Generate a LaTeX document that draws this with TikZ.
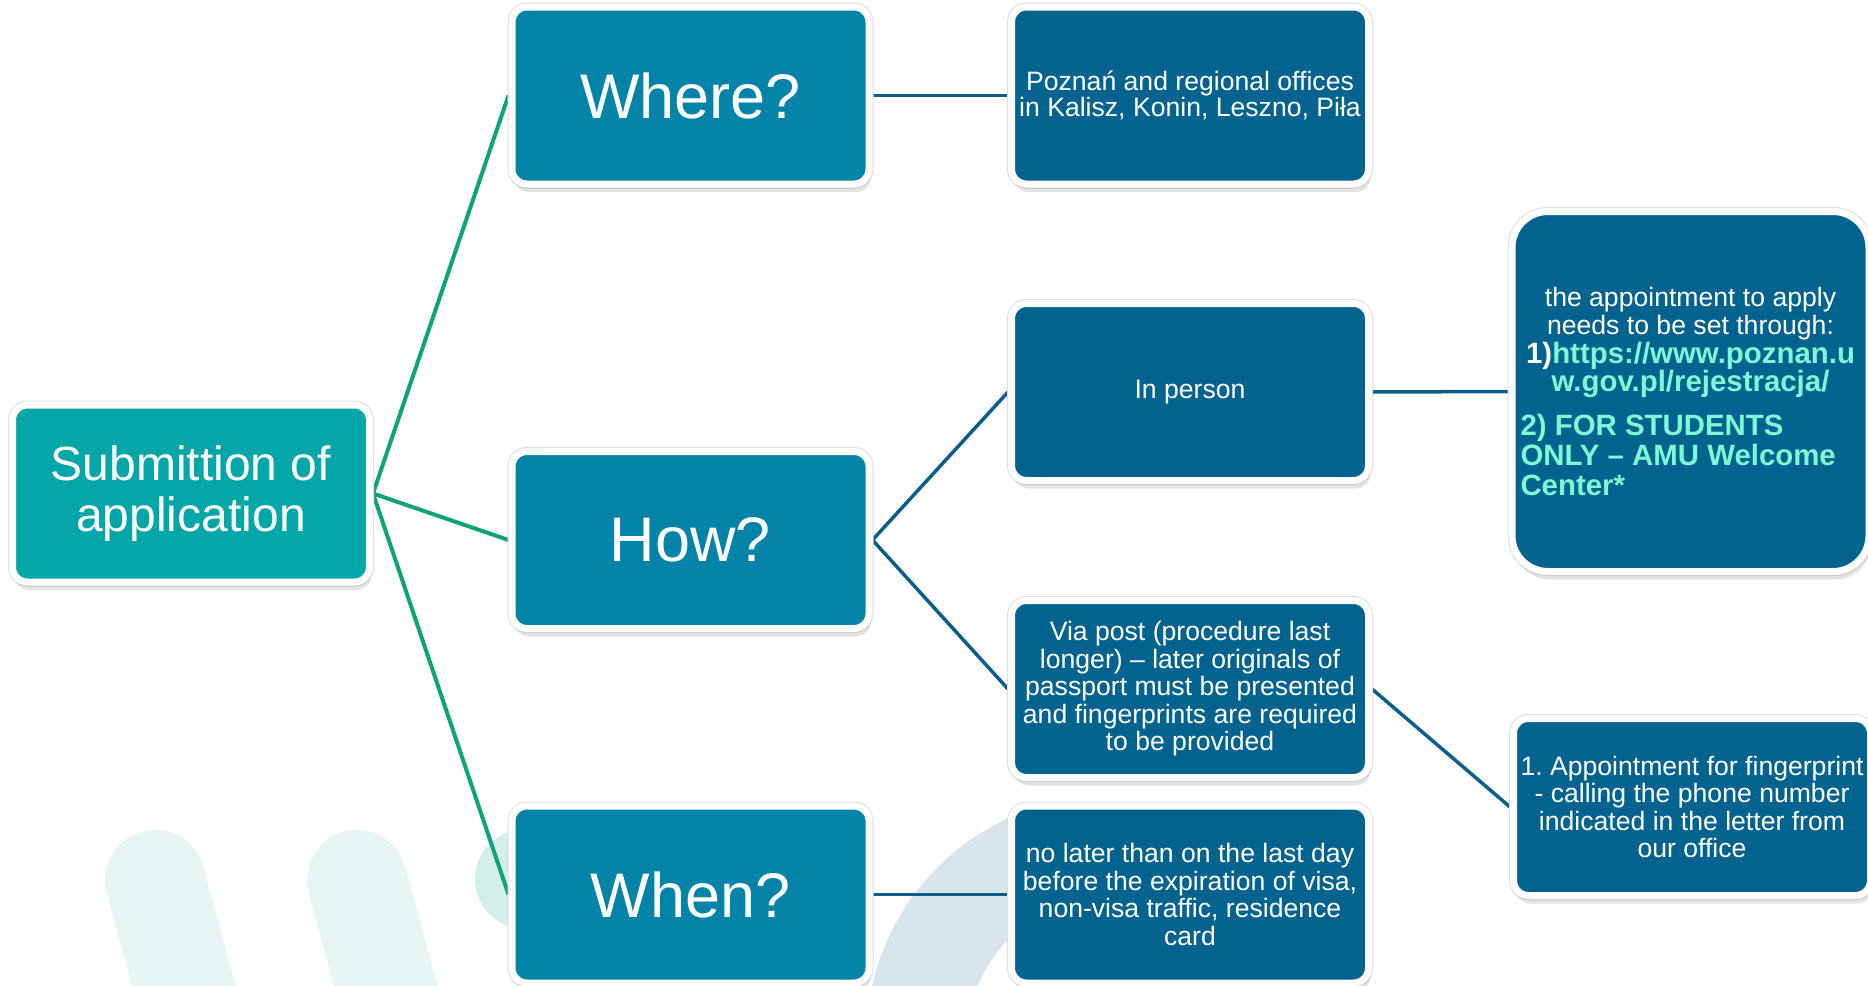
\documentclass[tikz,border=0pt]{standalone}
\usepackage{fontspec}
\setmainfont{Liberation Sans}
\usetikzlibrary{shadows}
\definecolor{subc}{HTML}{04A6A8}
\definecolor{midc}{HTML}{0383A7}
\definecolor{rc}{HTML}{03638F}
\definecolor{greenl}{HTML}{0FA379}
\definecolor{bluel}{HTML}{0B5E89}
\definecolor{aqua}{HTML}{7DF7D4}
\definecolor{wmone}{HTML}{E7F5F5}
\definecolor{wmtwo}{HTML}{D4EEEB}
\definecolor{wmthree}{HTML}{D8E5ED}
\pgfdeclarelayer{wm}
\pgfdeclarelayer{edges}
\pgfsetlayers{wm,edges,main}
\begin{document}
\begin{tikzpicture}[x=1pt,y=-1pt,
  boxbase/.style={draw=white, line width=7pt, rounded corners=15pt, inner sep=0pt,
    minimum width=357pt, minimum height=177pt, text=white, align=center,
    preaction={draw=black!13, line width=9pt},
    drop shadow={opacity=0.22, shadow xshift=2pt, shadow yshift=-8pt}},
  rootbox/.style={boxbase, fill=subc, font=\fontsize{48}{51}\selectfont},
  qbox/.style={boxbase, fill=midc, font=\fontsize{63}{70}\selectfont},
  infobox/.style={boxbase, fill=rc, font=\fontsize{26.6}{27.5}\selectfont},
  gline/.style={draw=greenl, line width=4pt},
  bline/.style={draw=bluel, line width=3.5pt}]
\useasboundingbox (0,0) rectangle (1868,985);

% nodes
\node[rootbox] (sub) at (191,493.5) {Submittion of\\application};
\node[qbox] (where) at (690.5,95.5) {Where?};
\node[qbox] (how) at (690.5,540) {How?};
\node[qbox] (when) at (690.5,894.5) {When?};
\node[infobox, font=\fontsize{26.6}{25.5}\selectfont] (poz) at (1190,95.5)
  {Poznań and regional offices\\in Kalisz, Konin, Leszno, Piła};
\node[infobox] (inperson) at (1190,392) {In person};
\node[infobox] (viapost) at (1190,689)
  {Via post (procedure last\\longer) – later originals of\\passport must be presented\\and fingerprints are required\\to be provided};
\node[infobox] (nolater) at (1190,894.5)
  {no later than on the last day\\before the expiration of visa,\\non-visa traffic, residence\\card};
\node[infobox, rounded corners=36pt, minimum height=360pt] (appt) at (1690.5,391.5)
  {\parbox{340pt}{\fontsize{26.6}{28.5}\selectfont\centering
   the appointment to apply\\needs to be set through:\\
   {\fontsize{29.4}{28.5}\selectfont\bfseries 1)\color{aqua}https://www.poznan.u}\\
   {\fontsize{29.4}{28.5}\selectfont\color{aqua}\bfseries w.gov.pl/rejestracja/}\par
   \vspace{14pt}\raggedright\color{aqua}\bfseries\fontsize{29.4}{30}\selectfont
   2) FOR STUDENTS\\ONLY – AMU Welcome\\Center*\par}};
\node[infobox] (finger) at (1692,807)
  {1.\ Appointment for fingerprint\\- calling the phone number\\indicated in the letter from\\our office};

% connectors
\begin{pgfonlayer}{edges}
\draw[gline] (sub.east) -- (where.west);
\draw[gline] (sub.east) -- (how.west);
\draw[gline] (sub.east) -- (when.west);
\draw[bline] (where.east) -- (poz.west);
\draw[bline] (how.east) -- (inperson.west);
\draw[bline] (how.east) -- (viapost.west);
\draw[bline] (when.east) -- (nolater.west);
\draw[bline] (inperson.east) -- (appt.west);
\draw[bline] (viapost.east) -- (finger.west);
\end{pgfonlayer}

% watermark
\begin{pgfonlayer}{wm}
\fill[white] (0,0) rectangle (1868,985);
\draw[wmone, line width=100pt, line cap=round] (155,880) -- (200,1045);
\draw[wmone, line width=100pt, line cap=round] (357,880) -- (402,1045);
\fill[wmtwo] (525,879) circle[radius=50];
\begin{scope}
\clip (840,812) rectangle (1020,985);
\fill[wmthree, even odd rule] (1110,1040) circle[radius=244] (1110,1040) circle[radius=143];
\end{scope}
\end{pgfonlayer}
\end{tikzpicture}
\end{document}
